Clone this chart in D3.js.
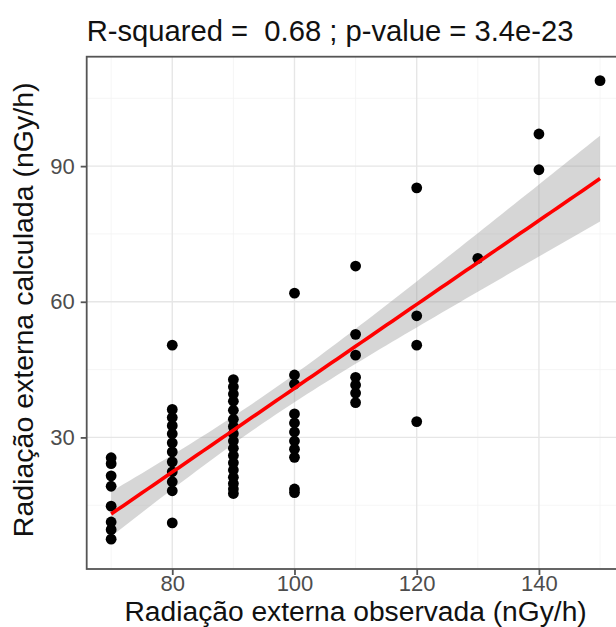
<!DOCTYPE html>
<html>
<head>
<meta charset="utf-8">
<script src="https://cdn.jsdelivr.net/npm/d3@7"></script>
<style>
  html, body { margin: 0; padding: 0; background: #fff; }
  svg { display: block; }
  text { font-family: "Liberation Sans", Arial, sans-serif; }
</style>
</head>
<body>
<svg id="chart" width="616" height="627"></svg>
<script>
// Observed external radiation (nGy/h), one entry per station group
const observed = [70, 80, 90, 100, 110, 120, 130, 140, 150];
// Calculated external radiation (nGy/h) for each observed level
const calculated = [
  [25.5, 24.2, 21.5, 19.2, 14.8, 11.3, 9.6, 7.5],
  [50.4, 36.2, 34.4, 32.6, 30.8, 28.8, 26.8, 24.6, 22.4, 20.2, 18.2, 11.1],
  [42.8, 41.2, 39.6, 38.0, 36.0, 34.0, 32.4, 30.8, 29.2, 27.6, 26.0, 24.4, 22.8, 21.2, 19.8, 18.6, 17.6],
  [61.9, 43.8, 41.8, 35.2, 33.2, 31.2, 29.2, 27.4, 25.6, 18.6, 17.8],
  [67.9, 52.8, 48.2, 43.3, 41.6, 39.8, 37.7],
  [85.2, 56.9, 50.4, 33.5],
  [69.6],
  [97.1, 89.2],
  [108.9]
];
const xTicks = [80, 100, 120, 140];
const yTicks = [30, 60, 90];
const xMinor = [70, 90, 110, 130, 150];
const yMinor = [15, 45, 75, 105];
const titleText = "R-squared =\u00a0 0.68 ; p-value = 3.4e-23";
const xTitle = "Radiação externa observada (nGy/h)";
const yTitle = "Radiação externa calculada (nGy/h)";

const points = [];
observed.forEach((x, i) => calculated[i].forEach(y => points.push({ x, y })));

const svg = d3.select("#chart");
const panel = { left: 86.7, top: 56.7, right: 624.5, bottom: 569 };

const x = d3.scaleLinear().domain([66, 154]).range([panel.left, panel.right]);
const y = d3.scaleLinear().domain([0.9, 114.2]).range([panel.bottom, panel.top]);

// Linear fit with 95% confidence band
const n = points.length;
const mx = d3.mean(points, d => d.x), my = d3.mean(points, d => d.y);
const sxx = d3.sum(points, d => (d.x - mx) ** 2);
const sxy = d3.sum(points, d => (d.x - mx) * (d.y - my));
const slope = sxy / sxx, intercept = my - slope * mx;
const sse = d3.sum(points, d => (d.y - (intercept + slope * d.x)) ** 2);
const s = Math.sqrt(sse / (n - 2));
const df = n - 2, z = 1.959964;
const tq = z + (z ** 3 + z) / (4 * df) + (5 * z ** 5 + 16 * z ** 3 + 3 * z) / (96 * df * df);
const [x0, x1] = d3.extent(points, d => d.x);
const fit = d3.range(0, 81).map(i => {
  const xv = x0 + (x1 - x0) * i / 80;
  const yv = intercept + slope * xv;
  const se = s * Math.sqrt(1 / n + (xv - mx) ** 2 / sxx);
  return { x: xv, y: yv, lo: yv - tq * se, hi: yv + tq * se };
});

const g = svg.append("g");

// Panel background and grid
g.append("rect").attr("x", panel.left).attr("y", panel.top)
  .attr("width", panel.right - panel.left).attr("height", panel.bottom - panel.top)
  .attr("fill", "#fff");

g.selectAll(".xminor").data(xMinor).join("line")
  .attr("x1", d => x(d)).attr("x2", d => x(d))
  .attr("y1", panel.top).attr("y2", panel.bottom)
  .attr("stroke", "#f2f2f2").attr("stroke-width", 0.8);
g.selectAll(".yminor").data(yMinor).join("line")
  .attr("y1", d => y(d)).attr("y2", d => y(d))
  .attr("x1", panel.left).attr("x2", panel.right)
  .attr("stroke", "#f2f2f2").attr("stroke-width", 0.8);
g.selectAll(".xmajor").data(xTicks).join("line")
  .attr("x1", d => x(d)).attr("x2", d => x(d))
  .attr("y1", panel.top).attr("y2", panel.bottom)
  .attr("stroke", "#e6e6e6").attr("stroke-width", 1.4);
g.selectAll(".ymajor").data(yTicks).join("line")
  .attr("y1", d => y(d)).attr("y2", d => y(d))
  .attr("x1", panel.left).attr("x2", panel.right)
  .attr("stroke", "#e6e6e6").attr("stroke-width", 1.4);

// Confidence band
g.append("path").datum(fit)
  .attr("d", d3.area().x(d => x(d.x)).y0(d => y(d.lo)).y1(d => y(d.hi)))
  .attr("fill", "#999").attr("fill-opacity", 0.4);

// Points
g.selectAll(".pt").data(points).join("circle")
  .attr("cx", d => x(d.x)).attr("cy", d => y(d.y)).attr("r", 5.4)
  .attr("fill", "#000");

// Fitted line
g.append("path").datum(fit)
  .attr("d", d3.line().x(d => x(d.x)).y(d => y(d.y)))
  .attr("fill", "none").attr("stroke", "#ff0000").attr("stroke-width", 3.6);

// Panel border
g.append("rect").attr("x", panel.left).attr("y", panel.top)
  .attr("width", panel.right - panel.left).attr("height", panel.bottom - panel.top)
  .attr("fill", "none").attr("stroke", "#555").attr("stroke-width", 1.8);

// Axes
const xAxis = svg.append("g").attr("transform", `translate(0,${panel.bottom})`)
  .call(d3.axisBottom(x).tickValues(xTicks).tickSize(6).tickPadding(4));
const yAxis = svg.append("g").attr("transform", `translate(${panel.left},0)`)
  .call(d3.axisLeft(y).tickValues(yTicks).tickSize(6).tickPadding(6));
[xAxis, yAxis].forEach(a => {
  a.select(".domain").remove();
  a.selectAll(".tick line").attr("stroke", "#555").attr("stroke-width", 1.8);
  a.selectAll(".tick text").attr("fill", "#4d4d4d")
    .style("font-size", "22px").style("font-family", "'Liberation Sans', Arial, sans-serif");
});
// x tick labels: baseline placed just above the axis title
xAxis.selectAll(".tick text").attr("y", 21.5).attr("dy", 0);

// Titles
svg.append("text").attr("x", panel.left).attr("y", 41)
  .attr("fill", "#111").style("font-size", "29.2px").text(titleText);
svg.append("text").attr("x", (panel.left + panel.right) / 2).attr("y", 621)
  .attr("text-anchor", "middle").attr("fill", "#111").style("font-size", "28.2px").text(xTitle);
svg.append("text")
  .attr("transform", `translate(33,${(panel.top + panel.bottom) / 2 - 3}) rotate(-90)`)
  .attr("text-anchor", "middle").attr("fill", "#111").style("font-size", "28.5px").text(yTitle);
</script>
</body>
</html>
